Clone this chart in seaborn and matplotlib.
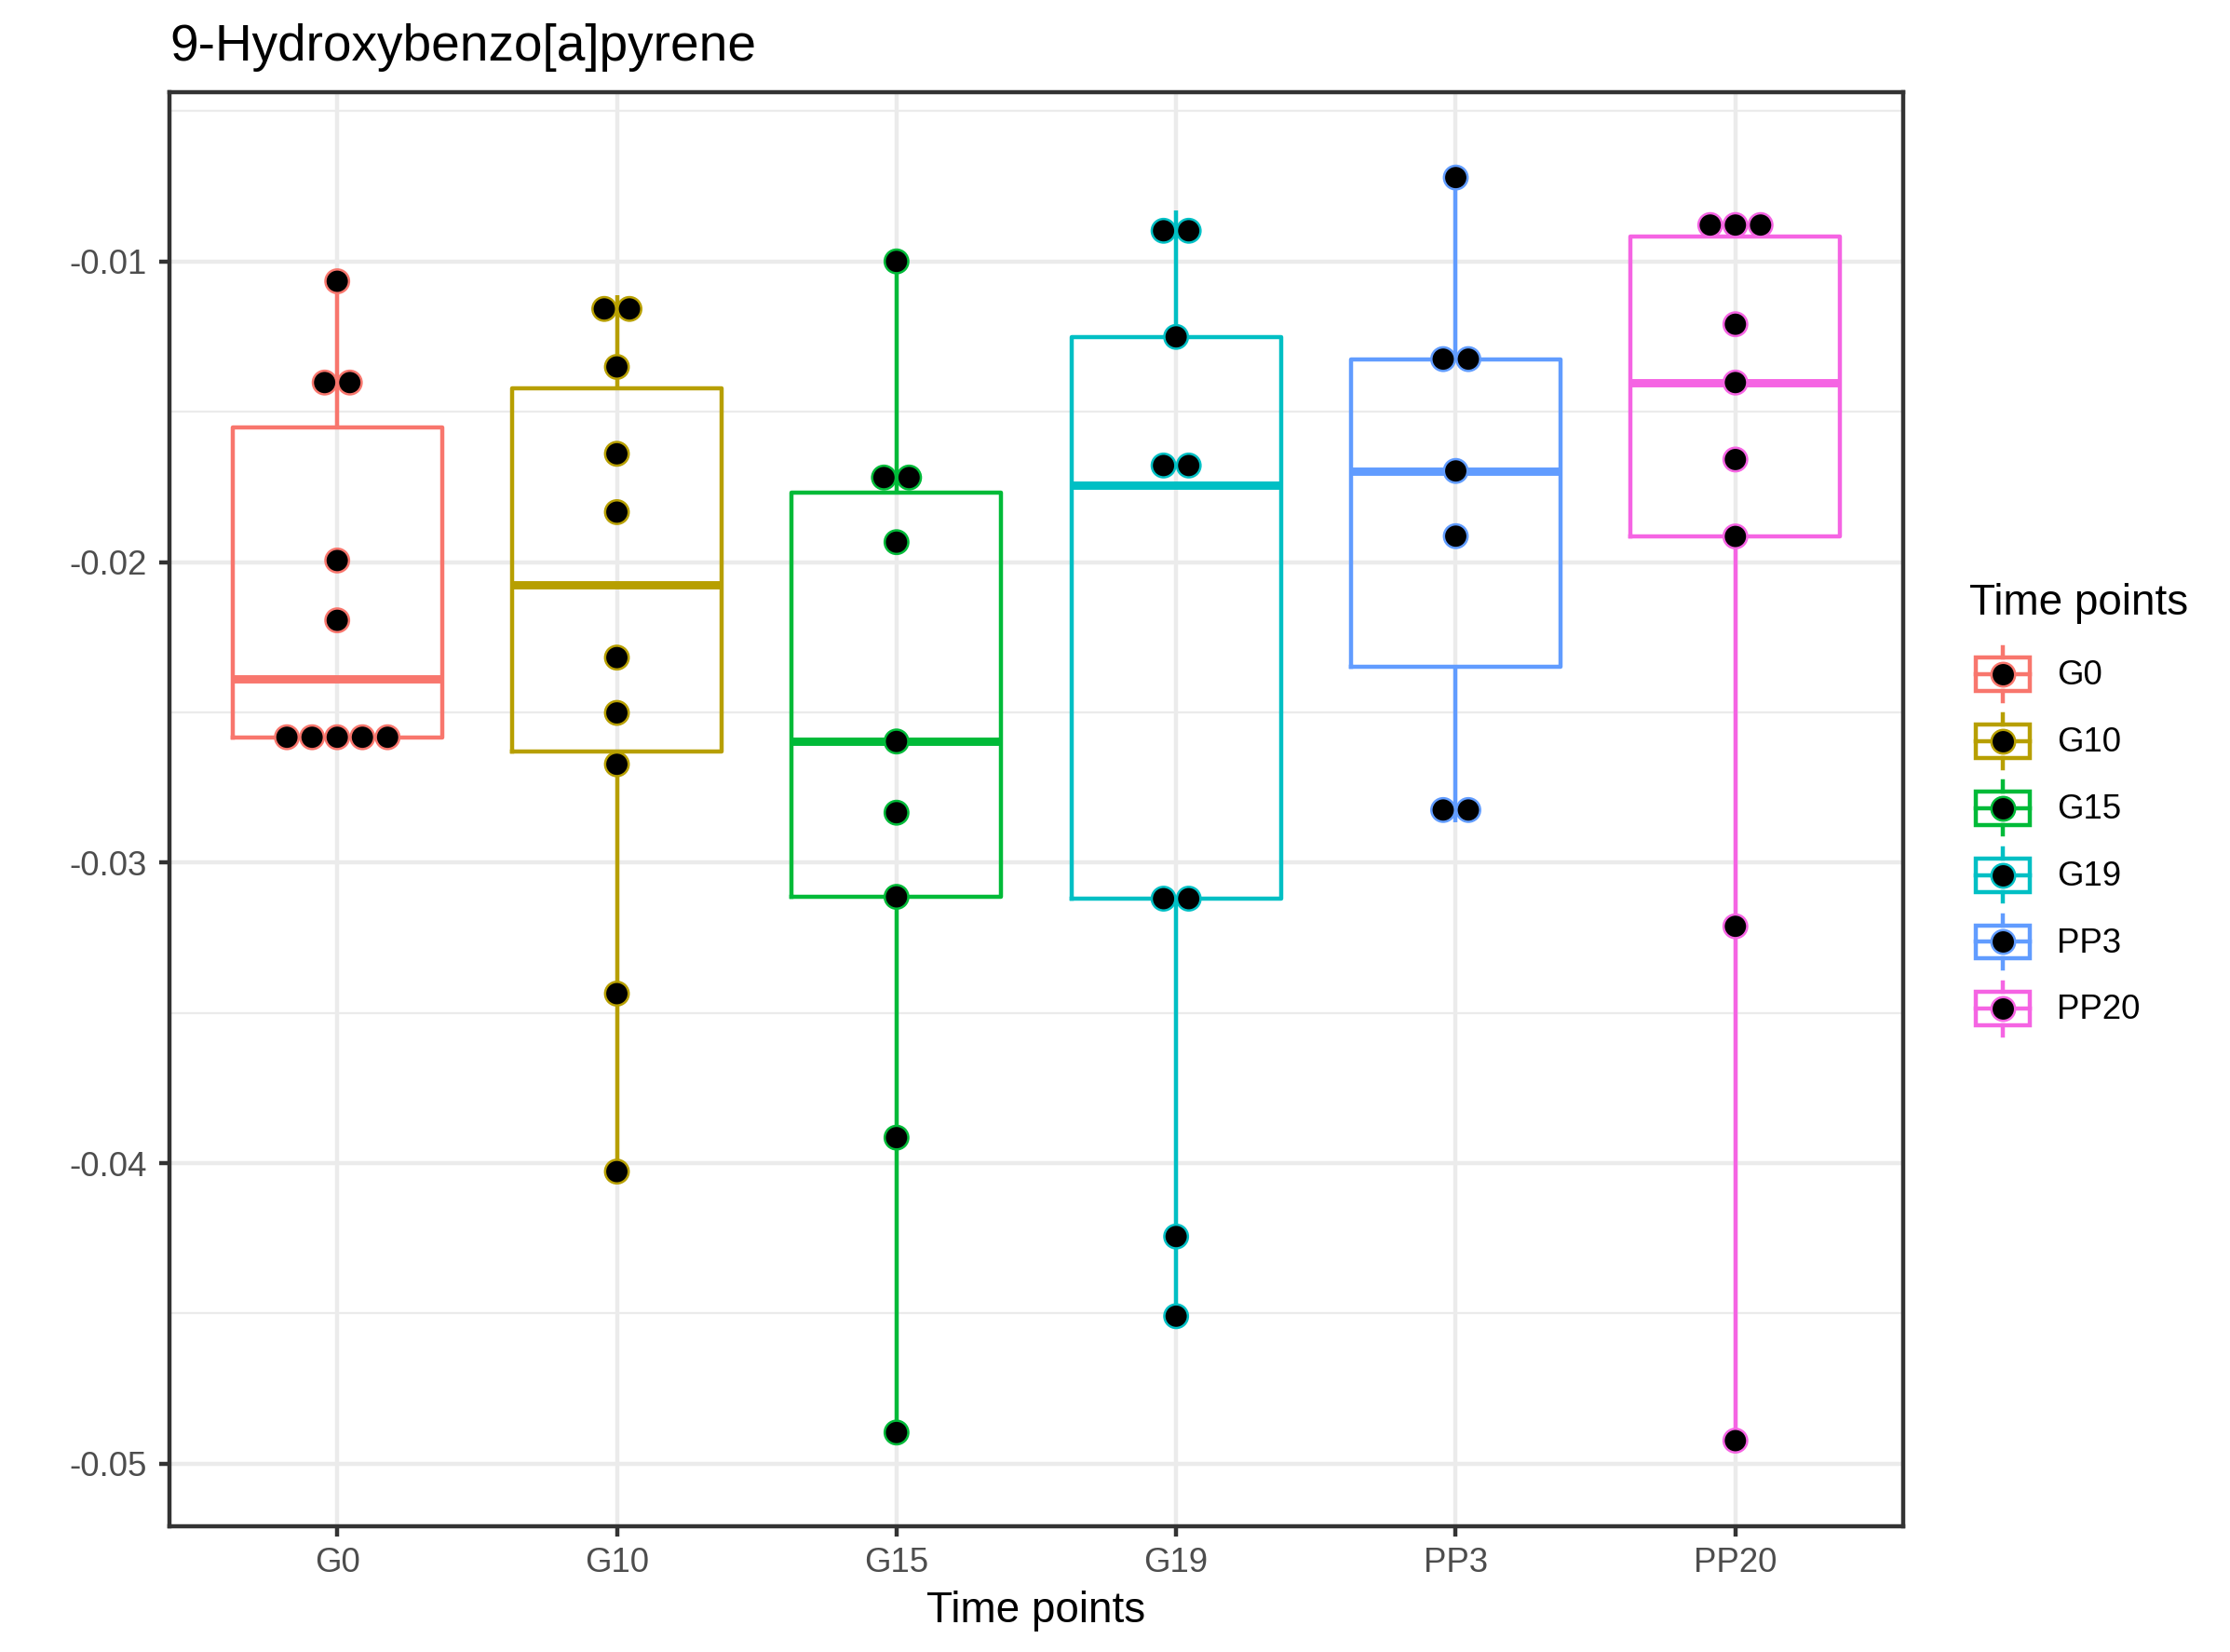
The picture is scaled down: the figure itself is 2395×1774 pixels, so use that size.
import numpy as np
import pandas as pd
import matplotlib
matplotlib.use("Agg")
import matplotlib.pyplot as plt
import seaborn as sns
from matplotlib.patches import Rectangle
from matplotlib.lines import Line2D

# ---------------- data ----------------
time_points = ["G0", "G10", "G15", "G19", "PP3", "PP20"]
palette_hex = ["#F8766D", "#B79F00", "#00BA38", "#00BFC4", "#619CFF", "#F564E3"]

g0 = [-0.01066, -0.01403, -0.01403, -0.01995, -0.02194,
      -0.02583, -0.02583, -0.02583, -0.02583, -0.02583]
g10 = [-0.01112, -0.01204, -0.01351, -0.01640, -0.01834,
       -0.02318, -0.02502, -0.02673, -0.03436, -0.04028]
g15 = [-0.01000, -0.01670, -0.01768, -0.01934, -0.02597,
       -0.02834, -0.03114, -0.03915, -0.04896]
g19 = [-0.00832, -0.00964, -0.01251, -0.01613, -0.01745,
       -0.03120, -0.03120, -0.04244, -0.04509]
pp3 = [-0.00721, -0.01325, -0.01325, -0.01697, -0.01914,
       -0.02785, -0.02865]
pp20 = [-0.00842, -0.00879, -0.00916, -0.01209, -0.01403,
        -0.01659, -0.01915, -0.03212, -0.04923]

groups = [g0, g10, g15, g19, pp3, pp20]
y_ticks = [-0.05, -0.04, -0.03, -0.02, -0.01]
y_tick_labels = ["-0.05", "-0.04", "-0.03", "-0.02", "-0.01"]
y_minor = [-0.045, -0.035, -0.025, -0.015, -0.005]

title = "9-Hydroxybenzo[a]pyrene"
x_title = "Time points"
legend_title = "Time points"

df = pd.DataFrame({
    "time": np.repeat(time_points, [len(g) for g in groups]),
    "value": np.concatenate(groups),
})

# ---------------- style ----------------
plt.rcParams["font.family"] = ["Liberation Sans", "DejaVu Sans"]
plt.rcParams["axes.unicode_minus"] = False

W, H, DPI = 2395, 1774, 300
LW = 1.07
GRID = "#EBEBEB"
DARK = "#333333"

fig = plt.figure(figsize=(W / DPI, H / DPI), dpi=DPI)
fig.patch.set_facecolor("white")
ax = fig.add_axes([182 / W, 1 - 1639 / H, (2044 - 182) / W, (1639 - 99) / H])

sns.boxplot(data=df, x="time", y="value", hue="time",
            order=time_points, hue_order=time_points, palette=palette_hex,
            fill=False, width=0.75, whis=(0, 100), showfliers=False,
            showcaps=False, linewidth=LW,
            medianprops={"linewidth": 2 * LW},
            legend=False, ax=ax)


# dotplot-like binning (dot density, centred stacks)
def dotdensity(vals, bw):
    v = np.sort(np.asarray(vals))
    bins = []
    i = 0
    while i < len(v):
        start = v[i]
        j = i
        while j + 1 < len(v) and v[j + 1] < start + bw:
            j += 1
        members = v[i:j + 1]
        bins.append(((members.min() + members.max()) / 2, len(members)))
        i = j + 1
    return bins


all_vals = df["value"].to_numpy()
binwidth = (all_vals.max() - all_vals.min()) / 30
dot_step = 0.09
xs, ys, ecs = [], [], []
for i, vals in enumerate(groups):
    for center, n in dotdensity(vals, binwidth):
        offs = (np.arange(n) - (n - 1) / 2) * dot_step
        xs.extend(i + offs)
        ys.extend([center] * n)
        ecs.extend([palette_hex[i]] * n)
ax.scatter(xs, ys, s=37, c="black", edgecolors=ecs, linewidths=0.6, zorder=5)

# axes styling (theme_bw-like)
ax.set_xlim(-0.6, 5.6)
ax.set_ylim(-0.05208, -0.00437)
ax.set_yticks(y_ticks)
ax.set_yticklabels(y_tick_labels)
ax.set_yticks(y_minor, minor=True)
ax.set_xticks(range(len(time_points)))
ax.set_xticklabels(time_points)
ax.set_axisbelow(True)
ax.grid(False)
ax.grid(which="major", axis="both", color=GRID, linewidth=LW, zorder=0)
ax.grid(which="minor", axis="y", color=GRID, linewidth=LW / 2, zorder=0)
ax.tick_params(which="minor", length=0)
ax.tick_params(which="major", length=2.75, width=LW, color=DARK,
               labelsize=8.8, labelcolor="#4D4D4D")
ax.tick_params(axis="y", pad=3)
ax.tick_params(axis="x", pad=2.5)
for s in ax.spines.values():
    s.set_visible(True)
    s.set_color(DARK)
    s.set_linewidth(LW)
ax.set_facecolor("white")
ax.set_ylabel("")
ax.set_xlabel(x_title, fontsize=11, color="black", labelpad=3)

fig.text(182 / W, 1 - 65 / H, title, fontsize=13.2, ha="left", va="baseline",
         color="black")


# legend keys drawn like ggplot boxplot keys with a dot
class BoxKeyHandler:
    def legend_artist(self, legend, orig_handle, fontsize, handlebox):
        c = orig_handle.get_color()
        x0, y0 = -handlebox.xdescent, -handlebox.ydescent
        w, h = handlebox.width, handlebox.height
        tr = handlebox.get_transform()
        rect = Rectangle((x0 + 0.1 * w, y0 + 0.25 * h), 0.8 * w, 0.5 * h,
                         fill=False, edgecolor=c, linewidth=LW, transform=tr)
        handlebox.add_artist(rect)
        for xx, yy in [([x0 + 0.1 * w, x0 + 0.9 * w], [y0 + 0.5 * h] * 2),
                       ([x0 + 0.5 * w] * 2, [y0 + 0.1 * h, y0 + 0.25 * h]),
                       ([x0 + 0.5 * w] * 2, [y0 + 0.75 * h, y0 + 0.9 * h])]:
            handlebox.add_artist(Line2D(xx, yy, color=c, linewidth=LW,
                                        transform=tr))
        dot = Line2D([x0 + 0.5 * w], [y0 + 0.5 * h], marker="o",
                     markersize=6.1, markerfacecolor="black",
                     markeredgecolor=c, markeredgewidth=0.6, linestyle="none",
                     transform=tr)
        handlebox.add_artist(dot)
        return rect


handles = [Line2D([], [], color=c) for c in palette_hex]
leg = fig.legend(handles, time_points, handler_map={Line2D: BoxKeyHandler()},
                 loc="upper left", bbox_to_anchor=(2115 / W, 1 - 626 / H),
                 frameon=False, fontsize=8.8, title=legend_title,
                 title_fontsize=11, handlelength=1.96, handleheight=2.64,
                 labelspacing=0, handletextpad=0.6, borderpad=0,
                 borderaxespad=0, alignment="left")
leg._legend_box.sep = 4.3

fig.savefig("out.png", dpi=DPI, facecolor="white")
